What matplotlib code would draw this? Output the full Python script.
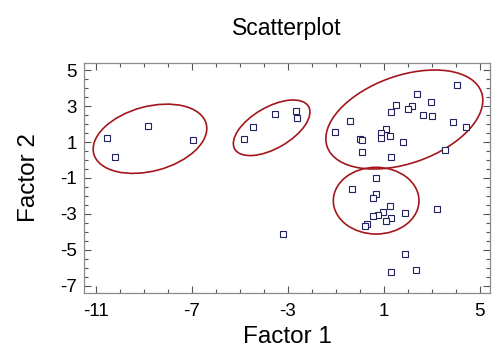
import matplotlib
matplotlib.use("Agg")
import matplotlib.pyplot as plt
from matplotlib.patches import Ellipse
from matplotlib.transforms import Affine2D
from matplotlib.ticker import MultipleLocator

plt.rcParams['font.family'] = ['Liberation Sans', 'DejaVu Sans']

factor1 = [-10.54, -8.82, -10.2, -6.97,
           -3.55, -2.67, -2.64, -4.46, -4.82,
           4.03, 2.36, 2.95, 1.51, 2.18, 1.99, 1.30, 2.64, 2.99, -0.40, 3.88, 4.40,
           -1.03, 1.10, 0.86, 0.875, 1.24, -0.01, 0.10, 1.80, 0.10, 3.55, 1.28,
           0.67, -0.32, 0.65, 0.55, 1.24, 1.875, 0.96, 0.75, 0.55, 1.28, 1.08, 0.29, 0.22, 3.22,
           -3.22, 1.875, 1.30, 2.33]
factor2 = [1.24, 1.87, 0.18, 1.11,
           2.58, 2.70, 2.32, 1.82, 1.18,
           4.15, 3.65, 3.22, 3.04, 2.98, 2.83, 2.68, 2.48, 2.43, 2.18, 2.11, 1.82,
           1.57, 1.71, 1.48, 1.24, 1.32, 1.17, 1.11, 1.02, 0.43, 0.56, 0.15,
           -1.02, -1.59, -1.91, -2.09, -2.54, -2.96, -2.91, -3.06, -3.09, -3.24, -3.37, -3.54, -3.65, -2.74,
           -4.11, -5.22, -6.20, -6.09]

# cluster ellipses: centre (data), width/height (in x-units), angle (deg)
ell_cx = [-8.75, -3.68, 1.85, 0.675]
ell_cy = [1.18, 1.79, 2.25, -2.26]
ell_w = [4.85, 3.55, 6.82, 3.57]
ell_h = [2.69, 1.72, 3.65, 2.78]
ell_ang = [15, 30, 19.5, 0]

xticks = [-11, -7, -3, 1, 5]
yticks = [-7, -5, -3, -1, 1, 3, 5]

fig = plt.figure(figsize=(4.92, 3.52), dpi=100)
ax = fig.add_axes([84/492, 59/352, 406/492, 230/352])

ax.plot(factor1, factor2, linestyle='none', marker='s', markersize=4.2,
        markerfacecolor='white', markeredgecolor='#22225e', markeredgewidth=0.8, zorder=3)

xl = (-11.5, 5.42)
yl = (-7.39, 5.39)
ax.set_xlim(*xl)
ax.set_ylim(*yl)

px_per_x = 406 / (xl[1] - xl[0])
px_per_y = 230 / (yl[1] - yl[0])
r = px_per_y / px_per_x
tr = Affine2D().scale(1, 1 / r) + ax.transData
for cx, cy, w, h, a in zip(ell_cx, ell_cy, ell_w, ell_h, ell_ang):
    e = Ellipse((cx, cy * r), w, h, angle=a, fill=False,
                edgecolor='#a3161c', linewidth=1.2, transform=tr, zorder=2)
    ax.add_patch(e)

ax.set_xticks(xticks)
ax.set_yticks(yticks)
ax.set_xticklabels([str(t) for t in xticks])
ax.set_yticklabels([str(t) for t in yticks])
ax.xaxis.set_minor_locator(MultipleLocator(1))
ax.yaxis.set_minor_locator(MultipleLocator(0.5))
ax.tick_params(which='both', direction='in', top=True, right=True, color='#555555', width=0.8)
ax.tick_params(which='major', length=5)
ax.tick_params(which='minor', length=3)
ax.tick_params(axis='x', which='major', labelsize=13.5, pad=7)
ax.tick_params(axis='y', which='major', labelsize=13.5, pad=5)
for s in ax.spines.values():
    s.set_color('#8a8a8a')
    s.set_linewidth(0.9)

ax.set_xlabel('Factor 1', fontsize=17.5)
ax.set_ylabel('Factor 2', fontsize=17.5)
ax.xaxis.set_label_coords(0.5, -0.143)
ax.yaxis.set_label_coords(-0.108, 0.5)
ax.text(0.5, 1.152, 'Scatterplot', transform=ax.transAxes, ha='center', va='center', fontsize=16.5)

fig.savefig('out.png', dpi=100)
